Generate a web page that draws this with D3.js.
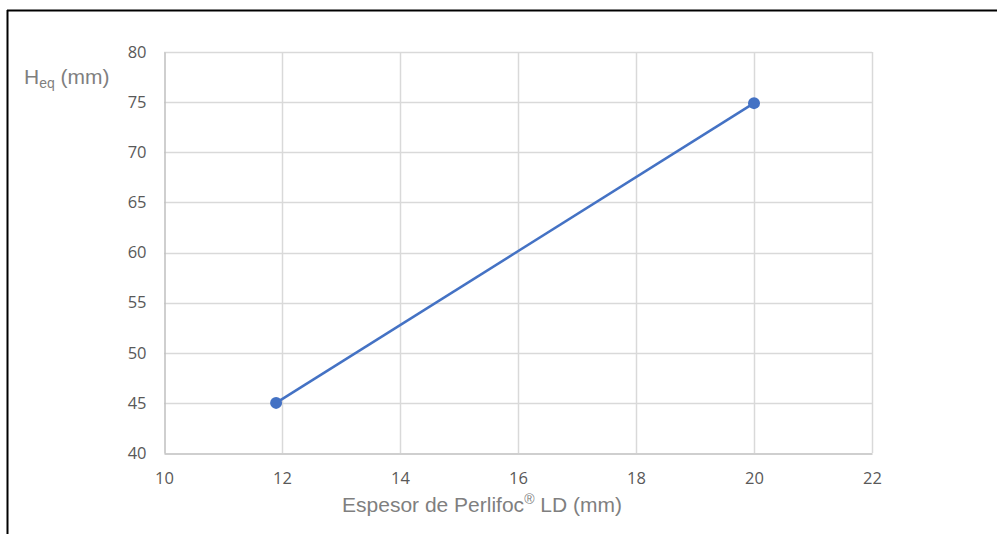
<!DOCTYPE html>
<html><head><meta charset="utf-8">
<script src="https://cdn.jsdelivr.net/npm/d3@7"></script>
<style>
html,body{margin:0;padding:0;background:#fff;}
svg{display:block;}
</style>
</head><body>
<svg id="c" width="997" height="534"></svg>
<script>
const xValues = [11.9, 20];
const yValues = [45, 74.9];
const xTicks = [10, 12, 14, 16, 18, 20, 22];
const yTicks = [40, 45, 50, 55, 60, 65, 70, 75, 80];

const svg = d3.select("#c");
// frame lines
svg.append("line").attr("x1",7).attr("x2",997).attr("y1",10.5).attr("y2",10.5).attr("stroke","#000").attr("stroke-width",2);
svg.append("line").attr("x1",7.5).attr("x2",7.5).attr("y1",10).attr("y2",534).attr("stroke","#000").attr("stroke-width",2);

const x = d3.scaleLinear().domain([10,22]).range([164,872]);
const y = d3.scaleLinear().domain([40,80]).range([453,52]);

// grid
const g = svg.append("g");
g.selectAll(".gx").data(xTicks.slice(1)).enter().append("line")
 .attr("x1",d=>Math.round(x(d))+0.5).attr("x2",d=>Math.round(x(d))+0.5)
 .attr("y1",y(80)).attr("y2",y(40)).attr("stroke","#d9d9d9").attr("stroke-width",1.5);
g.selectAll(".gy").data(yTicks.slice(1)).enter().append("line")
 .attr("x1",x(10)).attr("x2",x(22))
 .attr("y1",d=>Math.round(y(d))+0.5).attr("y2",d=>Math.round(y(d))+0.5).attr("stroke","#d9d9d9").attr("stroke-width",1.5);

// axes
const xAxis = d3.axisBottom(x).tickValues(xTicks).tickSize(0).tickPadding(19);
const yAxis = d3.axisLeft(y).tickValues(yTicks).tickSize(0).tickPadding(18);
const ax = svg.append("g").attr("transform",`translate(0,${Math.round(y(40))+0.5})`).call(xAxis);
const ay = svg.append("g").attr("transform",`translate(${Math.round(x(10))+0.5},0)`).call(yAxis);
[ax,ay].forEach(a=>{
  a.select(".domain").attr("stroke","#bfbfbf").attr("stroke-width",1.5);
  a.selectAll("text").attr("fill","#595959").style("font-family","'Open Sans', Lato, sans-serif").style("font-size","16.5px");
});

// line
svg.append("path").datum(xValues.map((v,i)=>[v,yValues[i]]))
 .attr("d", d3.line().x(d=>x(d[0])).y(d=>y(d[1])))
 .attr("fill","none").attr("stroke","#4472c4").attr("stroke-width",2.5);
svg.selectAll(".pt").data(xValues.map((v,i)=>[v,yValues[i]])).enter().append("circle")
 .attr("cx",d=>x(d[0])).attr("cy",d=>y(d[1])).attr("r",6).attr("fill","#4472c4");

// titles
const xt = svg.append("text").attr("x",482).attr("y",512).attr("text-anchor","middle")
 .attr("fill","#7f7f7f").style("font-family","'Liberation Sans', Arial, sans-serif").style("font-size","21px");
xt.append("tspan").text("Espesor de Perlifoc");
xt.append("tspan").attr("dy",-8).style("font-size","14px").text("®");
xt.append("tspan").attr("dy",8).text(" LD (mm)");

const yt = svg.append("text").attr("x",24).attr("y",84)
 .attr("fill","#7f7f7f").style("font-family","'Liberation Sans', Arial, sans-serif").style("font-size","21px");
yt.append("tspan").text("H");
yt.append("tspan").attr("dy",4).style("font-size","14px").text("eq");
yt.append("tspan").attr("dy",-4).text(" (mm)");
</script>
</body></html>
